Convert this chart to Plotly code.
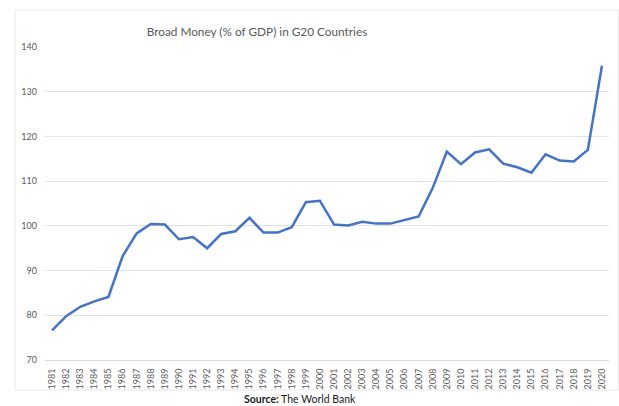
import plotly.graph_objects as go

years = [str(y) for y in range(1981, 2021)]
broad_money = [76.6, 79.8, 81.9, 83.1, 84.1, 93.2, 98.3, 100.4, 100.3, 97.0,
               97.5, 95.0, 98.2, 98.8, 101.8, 98.5, 98.5, 99.7, 105.3, 105.6,
               100.3, 100.1, 100.9, 100.5, 100.5, 101.3, 102.1, 108.5, 116.6, 113.8,
               116.4, 117.1, 113.9, 113.1, 111.9, 116.0, 114.6, 114.4, 117.0, 135.8]
y_ticks = [70, 80, 90, 100, 110, 120, 130, 140]

W, H = 619, 406
L, R, T, B = 45, 10, 47, 46
pw = W - L - R
ph = H - T - B

def px(x):
    return (x - L) / pw

def py(y):
    return (H - B - y) / ph

fig = go.Figure()
fig.add_trace(go.Scatter(
    x=years, y=broad_money, mode="lines",
    line=dict(color="#4472C4", width=2.5),
    hoverinfo="x+y", showlegend=False, cliponaxis=False,
))

font_family = "Lato, 'Open Sans', sans-serif"

fig.update_layout(
    width=W, height=H, autosize=False,
    margin=dict(l=L, r=R, t=T, b=B, pad=0, autoexpand=False),
    paper_bgcolor="white", plot_bgcolor="white",
    font=dict(family=font_family, color="#595959"),
    title=dict(
        text="Broad Money (% of GDP) in G20 Countries",
        font=dict(size=11.8, color="#595959", family=font_family),
        xref="paper", x=px(257), xanchor="center",
        yref="container", y=1 - 32 / H, yanchor="middle",
        automargin=False,
    ),
    xaxis=dict(
        type="category", tickangle=-90, automargin=False,
        range=[-0.5, 39.5],
        tickfont=dict(size=9, color="#595959"),
        showgrid=False, showline=True, linecolor="#d9d9d9", linewidth=1,
        ticks="", ticklabelstandoff=4, fixedrange=True,
    ),
    yaxis=dict(
        range=[70, 140], tickvals=y_ticks, automargin=False,
        tickfont=dict(size=9, color="#595959"),
        showgrid=True, gridcolor="#e3e3e3", gridwidth=1,
        zeroline=False, showline=False, ticks="",
        ticklabelstandoff=7, fixedrange=True,
    ),
    shapes=[dict(
        type="rect", xref="paper", yref="paper",
        x0=px(15), x1=px(618), y0=py(390), y1=py(10),
        line=dict(color="#e6e6e6", width=1), fillcolor="rgba(0,0,0,0)",
        layer="below",
    )],
    annotations=[dict(
        text="<b>Source:</b> The World Bank",
        xref="paper", yref="paper", x=px(300), y=py(399),
        xanchor="center", yanchor="middle", showarrow=False,
        font=dict(size=10.5, color="#1a1a1a", family=font_family),
    )],
)

fig.write_html(
    "out.html",
    config={"responsive": False, "displayModeBar": False},
    post_script="document.body.style.margin='0';document.body.style.overflow='hidden';",
)
